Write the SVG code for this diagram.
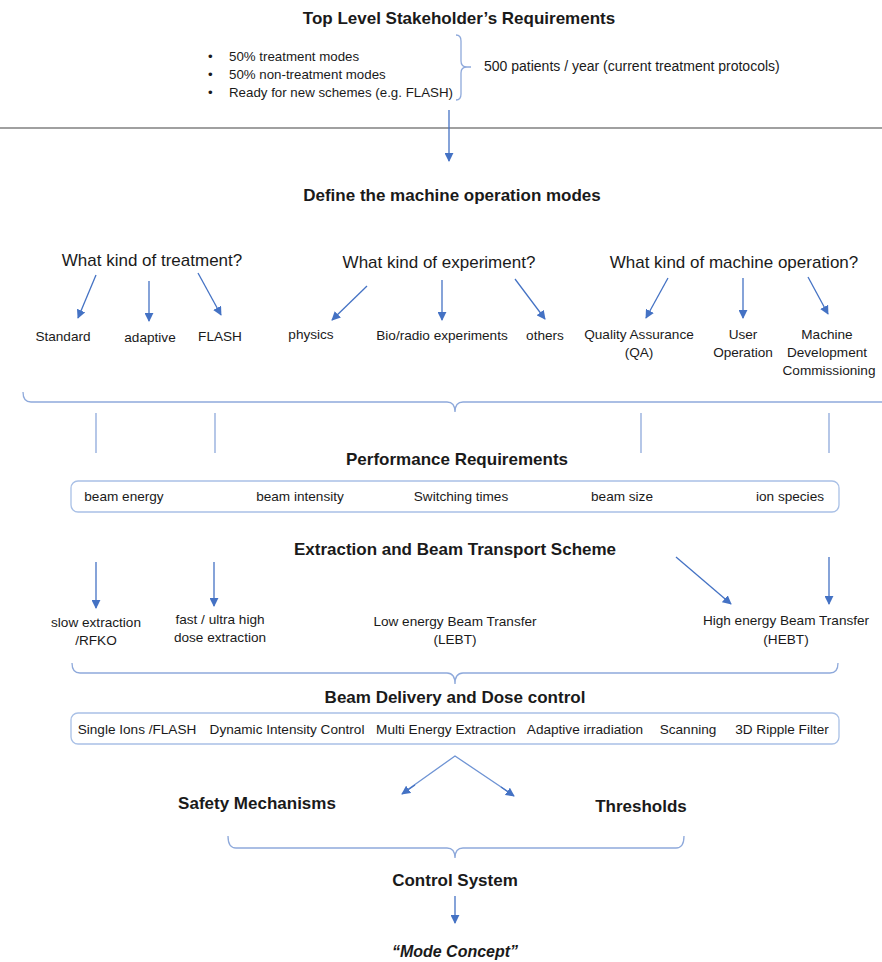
<svg xmlns="http://www.w3.org/2000/svg" width="882" height="962" viewBox="0 0 882 962">
<style>
text{font-family:"Liberation Sans",Arial,sans-serif;fill:#1a1a1a}
.h{font-weight:bold;font-size:17px;text-anchor:middle}
.q{font-size:17px;text-anchor:middle}
.s{font-size:13.6px;text-anchor:middle}
.l{font-size:13.3px}
.arr{stroke:#4472C4;stroke-width:1.3;fill:none;marker-end:url(#ah)}
.br{stroke:#8EA9DB;stroke-width:1.3;fill:none}
.box{fill:#fff;stroke:#A9C0E6;stroke-width:1.3}
</style>
<defs>
<marker id="ah" viewBox="0 0 10 10" refX="9" refY="5" markerWidth="9" markerHeight="9" markerUnits="userSpaceOnUse" orient="auto">
<path d="M0,0 L10,5 L0,10 z" fill="#4472C4"/>
</marker>
</defs>
<rect width="882" height="962" fill="#fff"/>

<g id="stakeholder">
<text class="h" x="459" y="24">Top Level Stakeholder’s Requirements</text>
<text class="l" x="208" y="61">•</text>
<text class="l" x="208" y="79">•</text>
<text class="l" x="208" y="97">•</text>
<text class="l" x="229" y="61">50% treatment modes</text>
<text class="l" x="229" y="79">50% non-treatment modes</text>
<text class="l" x="229" y="97">Ready for new schemes (e.g. FLASH)</text>
<text class="l" x="484" y="71" style="font-size:14px">500 patients / year (current treatment protocols)</text>
</g>
<line x1="0" y1="128" x2="882" y2="128" stroke="#808080" stroke-width="1.3"/>

<g id="modes">
<text class="h" x="452" y="201">Define the machine operation modes</text>
</g>
<g id="q-treatment"><text class="q" x="152" y="266">What kind of treatment?</text></g>
<g id="q-experiment"><text class="q" x="439" y="268">What kind of experiment?</text></g>
<g id="q-machine"><text class="q" x="734" y="268">What kind of machine operation?</text></g>

<g id="n-standard"><text class="s" x="63" y="341">Standard</text></g>
<g id="n-adaptive"><text class="s" x="150" y="342">adaptive</text></g>
<g id="n-flash"><text class="s" x="220" y="341">FLASH</text></g>
<g id="n-physics"><text class="s" x="311" y="339">physics</text></g>
<g id="n-bio"><text class="s" x="442" y="340">Bio/radio experiments</text></g>
<g id="n-others"><text class="s" x="545" y="340">others</text></g>
<g id="n-qa"><text class="s" x="639" y="339">Quality Assurance</text><text class="s" x="639" y="357">(QA)</text></g>
<g id="n-user"><text class="s" x="743" y="339">User</text><text class="s" x="743" y="357">Operation</text></g>
<g id="n-mdc"><text class="s" x="827" y="339">Machine</text><text class="s" x="827" y="357">Development</text><text class="s" x="829" y="375">Commissioning</text></g>

<g id="performance">
<text class="h" x="457" y="465">Performance Requirements</text>
<rect class="box" x="71" y="481" width="768" height="31" rx="7"/>
<text class="s" x="124" y="501">beam energy</text>
<text class="s" x="300" y="501">beam intensity</text>
<text class="s" x="461" y="501">Switching times</text>
<text class="s" x="622" y="501">beam size</text>
<text class="s" x="790" y="501">ion species</text>
</g>

<g id="extraction">
<text class="h" x="455" y="555">Extraction and Beam Transport Scheme</text>
</g>
<g id="n-slow"><text class="s" x="96" y="627">slow extraction</text><text class="s" x="96" y="645">/RFKO</text></g>
<g id="n-fast"><text class="s" x="220" y="624">fast / ultra high</text><text class="s" x="220" y="642">dose extraction</text></g>
<g id="n-lebt"><text class="s" x="455" y="626">Low energy Beam Transfer</text><text class="s" x="455" y="644">(LEBT)</text></g>
<g id="n-hebt"><text class="s" x="786" y="625">High energy Beam Transfer</text><text class="s" x="786" y="644">(HEBT)</text></g>

<g id="delivery">
<text class="h" x="455" y="703">Beam Delivery and Dose control</text>
<rect class="box" x="71" y="713" width="768" height="31" rx="7"/>
<text class="s" x="137" y="734">Single Ions /FLASH</text>
<text class="s" x="287" y="734">Dynamic Intensity Control</text>
<text class="s" x="446" y="734">Multi Energy Extraction</text>
<text class="s" x="585" y="734">Adaptive irradiation</text>
<text class="s" x="688" y="734">Scanning</text>
<text class="s" x="782" y="734">3D Ripple Filter</text>
</g>

<g id="n-safety"><text class="h" x="257" y="809">Safety Mechanisms</text></g>
<g id="n-thresholds"><text class="h" x="641" y="812">Thresholds</text></g>
<g id="n-control"><text class="h" x="455" y="886">Control System</text></g>
<g id="n-mode"><text class="h" x="455" y="957" style="font-style:italic;font-size:16px">“Mode Concept”</text></g>

<g id="connectors">
<path class="br" d="M456,35 Q461,35 461,41 L461,61 Q461,67 467,67 L471,67 M467,67 Q461,67 461,73 L461,94 Q461,100 456,100"/>
<line class="arr" x1="449" y1="110" x2="449" y2="161"/>

<line class="arr" x1="96" y1="275" x2="78" y2="318"/>
<line class="arr" x1="149" y1="281" x2="149" y2="321"/>
<line class="arr" x1="198" y1="273" x2="221" y2="315"/>
<line class="arr" x1="367" y1="286" x2="332" y2="320"/>
<line class="arr" x1="442" y1="280" x2="442" y2="320"/>
<line class="arr" x1="515" y1="279" x2="545" y2="319"/>
<line class="arr" x1="668" y1="278" x2="646" y2="318"/>
<line class="arr" x1="743" y1="278" x2="743" y2="318"/>
<line class="arr" x1="808" y1="277" x2="828" y2="314"/>

<path class="br" d="M23,392 Q23,402 31,402 L447,402 Q455,402 455,412 Q455,402 463,402 L882,402"/>
<line class="br" x1="96" y1="413" x2="96" y2="453"/>
<line class="br" x1="215" y1="413" x2="215" y2="453"/>
<line class="br" x1="641" y1="413" x2="641" y2="453"/>
<line class="br" x1="829" y1="413" x2="829" y2="453"/>

<line class="arr" x1="96" y1="562" x2="96" y2="608"/>
<line class="arr" x1="214" y1="562" x2="214" y2="606"/>
<line class="arr" x1="676" y1="557" x2="731" y2="604"/>
<line class="arr" x1="829" y1="557" x2="829" y2="604"/>

<path class="br" d="M72,663 Q72,673 80,673 L447,673 Q455,673 455,684 Q455,673 463,673 L830,673 Q838,673 838,663"/>

<polyline class="br" points="403,793 455,756 513,795" style="stroke:#6F94D4;stroke-width:1.3"/>
<line class="arr" x1="415" y1="785" x2="402" y2="794"/>
<line class="arr" x1="501" y1="787" x2="514" y2="796"/>

<path class="br" d="M228,836 Q228,848 236,848 L447,848 Q455,848 455,858 Q455,848 463,848 L676,848 Q684,848 684,836"/>
<line class="arr" x1="455" y1="896" x2="455" y2="923"/>
</g>
</svg>
